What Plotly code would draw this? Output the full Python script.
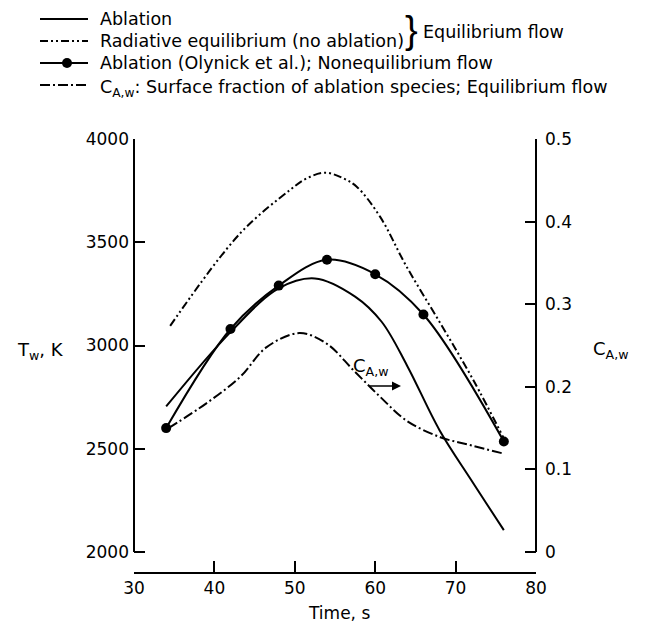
import plotly.graph_objects as go

# ---------------- data ----------------
# Ablation, equilibrium flow (solid)
abl_t = [34, 42, 48, 52.5, 57.5, 60.8, 64, 68, 72, 76]
abl_T = [2705, 3065, 3277, 3325, 3237, 3115, 2900, 2590, 2345, 2106]

# Radiative equilibrium, no ablation (dash-dot-dot)
rad_t = [34.5, 43.2, 49.4, 51.5, 53.8, 56.0, 57.7, 60.6, 63.9, 68.1, 72.2, 76]
rad_T = [3095, 3543, 3753, 3810, 3837, 3810, 3769, 3624, 3382, 3108, 2833, 2550]

# Ablation (Olynick et al.), nonequilibrium flow (solid + markers)
oly_t = [34, 42, 48, 54, 60, 66, 76]
oly_T = [2600, 3080, 3290, 3415, 3345, 3150, 2535]

# C_A,w surface fraction of ablation species (dash-dot, right axis)
caw_t = [34.3, 39, 43.2, 46.5, 50.6, 54, 57.3, 60.6, 63.9, 68.1, 72, 76]
caw_C = [0.150, 0.180, 0.212, 0.248, 0.265, 0.252, 0.220, 0.188, 0.159, 0.139, 0.129, 0.119]

x_ticks = [30, 40, 50, 60, 70, 80]
yl_ticks = [2000, 2500, 3000, 3500, 4000]
yr_ticks = [0, 0.1, 0.2, 0.3, 0.4, 0.5]
yr_labels = ["0", "0.1", "0.2", "0.3", "0.4", "0.5"]

legend_rows = [
    "Ablation",
    "Radiative equilibrium (no ablation)",
    "Ablation (Olynick et al.); Nonequilibrium flow",
    "C<sub>A,w</sub>: Surface fraction of ablation species; Equilibrium flow",
]

# ---------------- layout geometry ----------------
W, H = 655, 625
L, R, T, B = 134, 536, 139, 572   # plot area pixels
FONT = "DejaVu Sans, Liberation Sans, Arial, sans-serif"
DASH_RAD = "8px,3px,2px,3px,2px,3px"
DASH_CAW = "10px,3px,2px,3px"

def px(xp):
    return (xp - L) / (R - L)

def py(yp):
    return (B - yp) / (B - T)

# y ranges: 4000 at top of area, 2000 at pixel 552
ppk = (552 - T) / 2000.0          # pixels per K
ymin = 2000 - (B - 552) / ppk
y2min = (ymin - 2000) / 4000.0

fig = go.Figure()
line = dict(color="black", width=2)

fig.add_trace(go.Scatter(x=abl_t, y=abl_T, mode="lines", line=dict(**line, shape="spline"),
                         name="Ablation", showlegend=False))
fig.add_trace(go.Scatter(x=rad_t, y=rad_T, mode="lines",
                         line=dict(**line, shape="spline", dash=DASH_RAD),
                         name="Radiative equilibrium", showlegend=False))
fig.add_trace(go.Scatter(x=oly_t, y=oly_T, mode="lines+markers",
                         line=dict(**line, shape="spline"),
                         marker=dict(color="black", size=10),
                         name="Olynick", showlegend=False))
fig.add_trace(go.Scatter(x=caw_t, y=caw_C, mode="lines", yaxis="y2",
                         line=dict(**line, shape="spline", dash=DASH_CAW),
                         name="CAw", showlegend=False))

axis_common = dict(showgrid=False, zeroline=False, ticks="inside", ticklen=11,
                   tickwidth=2, tickcolor="black",
                   tickfont=dict(family=FONT, size=17, color="black"))

fig.update_layout(
    width=W, height=H,
    margin=dict(l=L, r=W - R, t=T, b=H - B, pad=0),
    paper_bgcolor="white", plot_bgcolor="white",
    font=dict(family=FONT, color="black"),
    xaxis=dict(range=[30, 80], tickvals=x_ticks, showline=True, linecolor="black",
               linewidth=2, **axis_common),
    yaxis=dict(range=[ymin, 4000], tickvals=yl_ticks, showline=False,
               ticklabelstandoff=4, **axis_common),
    yaxis2=dict(range=[y2min, 0.5], tickvals=yr_ticks, ticktext=yr_labels,
                overlaying="y", side="right", showline=False,
                ticklabelstandoff=8, **axis_common),
)

shapes = []
# detached y axis lines
shapes.append(dict(type="line", xref="paper", yref="y", x0=0, x1=0, y0=2000, y1=4000,
                   line=dict(color="black", width=2)))
shapes.append(dict(type="line", xref="paper", yref="y2", x0=1, x1=1, y0=0, y1=0.5,
                   line=dict(color="black", width=2)))

annotations = []
# axis titles
annotations.append(dict(text="T<sub>w</sub>, K", xref="paper", yref="paper",
                        x=px(15), y=py(351), xanchor="left", yanchor="middle",
                        showarrow=False, font=dict(family=FONT, size=18)))
annotations.append(dict(text="C<sub>A,w</sub>", xref="paper", yref="paper",
                        x=px(591), y=py(350), xanchor="left", yanchor="middle",
                        showarrow=False, font=dict(family=FONT, size=18)))
annotations.append(dict(text="Time, s", xref="paper", yref="paper",
                        x=px(339), y=py(613), xanchor="center", yanchor="middle",
                        showarrow=False, font=dict(family=FONT, size=17)))

# in-plot label with arrow for C_A,w
annotations.append(dict(text="C<sub>A,w</sub>", xref="paper", yref="paper",
                        x=px(351), y=py(367), xanchor="left", yanchor="middle",
                        showarrow=False, font=dict(family=FONT, size=18)))
annotations.append(dict(text="", xref="paper", yref="paper", axref="pixel", ayref="pixel",
                        x=px(401), y=py(386), ax=-33, ay=0, showarrow=True,
                        arrowhead=2, arrowsize=1.2, arrowwidth=1.5, arrowcolor="black"))

# manual legend
rows_y = [19, 41, 63, 85]
lx0, lx1, tx = 40, 88, 99
dashes = ["solid", DASH_RAD, "solid", DASH_CAW]
for i, (txt, dsh) in enumerate(zip(legend_rows, dashes)):
    yy = py(rows_y[i])
    shapes.append(dict(type="line", xref="paper", yref="paper", x0=px(lx0), x1=px(lx1),
                       y0=yy, y1=yy, line=dict(color="black", width=2, dash=dsh)))
    annotations.append(dict(text=txt, xref="paper", yref="paper", x=px(tx),
                            y=yy - (0.0 if i < 3 else 3 / (B - T)),
                            xanchor="left", yanchor="middle", showarrow=False,
                            borderpad=0,
                            font=dict(family=FONT, size=17.5)))
# legend marker for Olynick
r = 5
shapes.append(dict(type="circle", xref="paper", yref="paper",
                   x0=px(67 - r), x1=px(67 + r), y0=py(rows_y[2] + r), y1=py(rows_y[2] - r),
                   fillcolor="black", line=dict(color="black", width=0)))
# brace and group label
annotations.append(dict(text="}", xref="paper", yref="paper", x=px(411), y=py(30),
                        xanchor="center", yanchor="middle", showarrow=False,
                        borderpad=0,
                        font=dict(family="Liberation Sans, Arial, sans-serif", size=38)))
annotations.append(dict(text="Equilibrium flow", xref="paper", yref="paper", x=px(422),
                        y=py(32), xanchor="left", yanchor="middle", showarrow=False,
                        borderpad=0, font=dict(family=FONT, size=17.5)))

fig.update_layout(shapes=shapes, annotations=annotations)
fig.write_html("out.html")
